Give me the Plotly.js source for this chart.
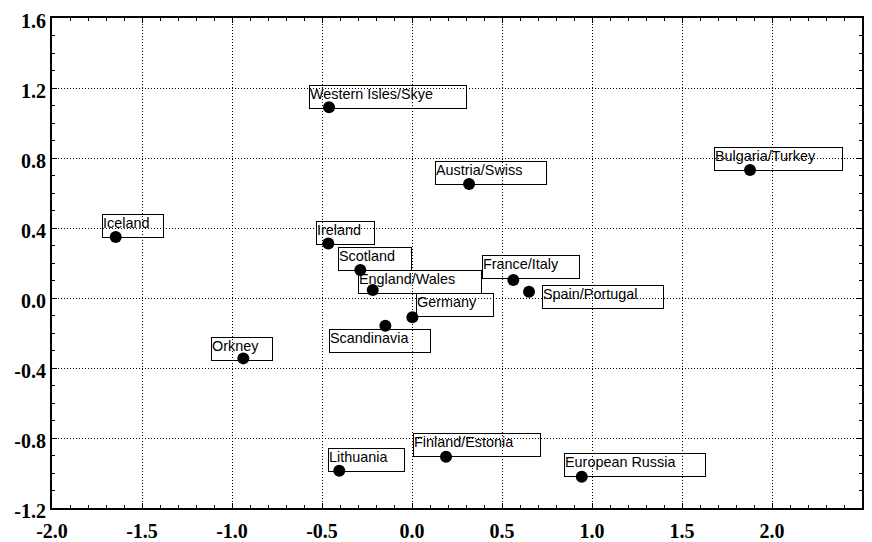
<!DOCTYPE html>
<html>
<head>
<meta charset="utf-8">
<script src="https://cdn.plot.ly/plotly-3.0.1.min.js"></script>
<style>
  html, body { margin: 0; padding: 0; background: #fff; }
  #chart { width: 872px; height: 542px; }
</style>
</head>
<body>
<div id="chart"></div>
<script>
// ---- data ----
const regions = ["Iceland", "Western Isles/Skye", "Austria/Swiss", "Ireland", "Bulgaria/Turkey",
  "Scotland", "England/Wales", "Germany", "Scandinavia", "Orkney", "Lithuania",
  "Finland/Estonia", "European Russia", "France/Italy", "Spain/Portugal"];
const dim1 = [-1.646, -0.461, 0.317, -0.465, 1.878, -0.287, -0.218, 0.002, -0.148, -0.937, -0.404,
  0.189, 0.943, 0.563, 0.650];
const dim2 = [0.349, 1.090, 0.651, 0.312, 0.731, 0.160, 0.046, -0.110, -0.158, -0.345, -0.987,
  -0.907, -1.021, 0.103, 0.036];

const xTickVals = [-2.0, -1.5, -1.0, -0.5, 0.0, 0.5, 1.0, 1.5, 2.0, 2.5];
const xTickText = ["-2.0", "-1.5", "-1.0", "-0.5", "0.0", "0.5", "1.0", "1.5", "2.0", "2.5"];
const yTickVals = [-1.2, -0.8, -0.4, 0.0, 0.4, 0.8, 1.2, 1.6];
const yTickText = ["-1.2", "-0.8", "-0.4", "0.0", "0.4", "0.8", "1.2", "1.6"];

// ---- label box placement (pixel offsets from each point: box left, box bottom) ----
const labelDx = [-13.4, -20, -34, -12.6, -36, -22, -15, 3.4, -56.6, -32.3, -11, -32.7, -17.4, -31, 12.7];
const labelDy = [0.7, 2, 1, 1.7, 0.7, 1.3, 4, 0, 27.6, 2.7, 1.3, 0.6, 0.6, -0.7, 17.6];

const labelFontSize = 14.4;
const cv = document.createElement('canvas').getContext('2d');
cv.font = labelFontSize + 'px "Liberation Sans"';
function boxWidth(t) { return 1.25 * cv.measureText(t).width + 4; }

const annotations = regions.map((name, i) => ({
  x: dim1[i], y: dim2[i], xref: 'x', yref: 'y',
  text: name, showarrow: false,
  xanchor: 'left', yanchor: 'bottom',
  xshift: labelDx[i], yshift: -labelDy[i],
  width: Math.round(boxWidth(name)) - 2, height: 22,
  align: 'left', valign: 'top',
  bordercolor: '#000', borderwidth: 1, borderpad: 0,
  font: { family: '"Liberation Sans", Arial, sans-serif', size: labelFontSize, color: '#000' }
}));

const trace = {
  type: 'scatter', mode: 'markers',
  x: dim1, y: dim2, text: regions,
  marker: { color: '#000', size: 12 },
  hoverinfo: 'text'
};

const axisCommon = {
  showline: true, linecolor: '#000', linewidth: 2, mirror: 'allticks',
  showgrid: true, gridcolor: '#000', gridwidth: 1, griddash: '1px,2px',
  zeroline: false,
  ticks: 'inside', ticklen: 5, tickwidth: 1, tickcolor: '#000',
  tickmode: 'array',
  tickfont: { family: '"Liberation Serif", "Times New Roman", serif', size: 20, color: '#000', weight: 'bold' }
};

const layout = {
  width: 872, height: 542,
  margin: { l: 52, r: 10, t: 18, b: 34 },
  paper_bgcolor: '#fff', plot_bgcolor: '#fff',
  showlegend: false,
  xaxis: Object.assign({}, axisCommon, {
    range: [-2.0, 2.5], tickvals: xTickVals, ticktext: xTickText,
    ticklabelstandoff: 4,
    minor: { tickmode: 'linear', tick0: 0, dtick: 0.1, ticks: 'inside', ticklen: 3, tickcolor: '#000', showgrid: false }
  }),
  yaxis: Object.assign({}, axisCommon, {
    range: [-1.2, 1.6], tickvals: yTickVals, ticktext: yTickText,
    ticklabelshift: 3,
    minor: { tickmode: 'linear', tick0: 0, dtick: 0.1, ticks: 'inside', ticklen: 3, tickcolor: '#000', showgrid: false }
  }),
  annotations: annotations
};

Plotly.newPlot('chart', [trace], layout, { displayModeBar: false, staticPlot: true });
</script>
</body>
</html>
